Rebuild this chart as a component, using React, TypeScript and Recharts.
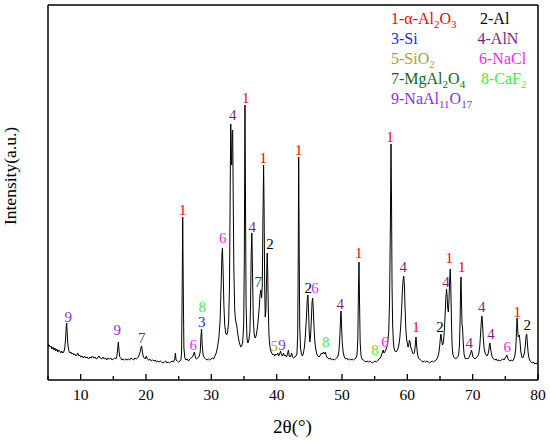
import React from "react";
import { ComposedChart, Line, Scatter, XAxis, YAxis } from "recharts";

// 2θ (deg) vs intensity (a.u.)
const scan05to25: [number, number][] = [
  [5.0, 36], [5.1, 34], [5.2, 35], [5.3, 33], [5.45, 34], [5.6, 31], [5.75, 33], [5.9, 30],
  [6.05, 32], [6.2, 29], [6.35, 31], [6.5, 28], [6.65, 30], [6.8, 29], [6.95, 27], [7.1, 29],
  [7.25, 27], [7.4, 28], [7.55, 31], [7.68, 40], [7.78, 52], [7.86, 57], [7.94, 47], [8.05, 35],
  [8.2, 29], [8.35, 27], [8.5, 28], [8.65, 26], [8.8, 27], [8.95, 25], [9.1, 26], [9.25, 24],
  [9.4, 25], [9.55, 27], [9.7, 24], [9.85, 25], [10.0, 23], [10.2, 24], [10.4, 22], [10.6, 24],
  [10.8, 22], [11.0, 23], [11.2, 21], [11.4, 23], [11.6, 22], [11.8, 24], [12.0, 22], [12.2, 23],
  [12.4, 21], [12.6, 22], [12.8, 24], [13.0, 22], [13.2, 21], [13.4, 23], [13.6, 21], [13.8, 22],
  [14.0, 20], [14.2, 22], [14.4, 21], [14.6, 22], [14.8, 20], [15.0, 21], [15.2, 22], [15.4, 21],
  [15.55, 24], [15.68, 32], [15.77, 38], [15.86, 30], [15.98, 23], [16.15, 22], [16.3, 20],
  [16.5, 21], [16.7, 20], [16.9, 21], [17.1, 20], [17.3, 21], [17.5, 20], [17.7, 22], [17.9, 21],
  [18.1, 20], [18.3, 22], [18.5, 21], [18.7, 22], [18.9, 24], [19.1, 28], [19.25, 33], [19.34, 34],
  [19.45, 28], [19.6, 23], [19.75, 22], [19.9, 21], [20.05, 24], [20.2, 21], [20.4, 20], [20.6, 21],
  [20.8, 19], [21.0, 20], [21.2, 19], [21.4, 20], [21.6, 18], [21.8, 19], [22.0, 18], [22.2, 19],
  [22.4, 18], [22.6, 17], [22.8, 18], [23.0, 19], [23.2, 17], [23.4, 18], [23.6, 17], [23.8, 18],
  [24.0, 19], [24.2, 18], [24.4, 21], [24.5, 27], [24.6, 20], [24.8, 19], [25.0, 18], [25.2, 19],
  [25.35, 20],
];

const scan25to41: [number, number][] = [
  [25.45, 28], [25.55, 100], [25.62, 163], [25.7, 95], [25.8, 32], [25.95, 22], [26.1, 20],
  [26.3, 21], [26.5, 19], [26.7, 21], [26.9, 22], [27.1, 23], [27.3, 26], [27.4, 28], [27.55, 23],
  [27.7, 21], [27.9, 22], [28.1, 23], [28.3, 28], [28.42, 44], [28.5, 51], [28.6, 35], [28.75, 25],
  [28.95, 22], [29.15, 21], [29.35, 20], [29.55, 21], [29.75, 20], [29.95, 21], [30.15, 22],
  [30.35, 21], [30.55, 24], [30.75, 27], [30.95, 33], [31.15, 42], [31.35, 60], [31.5, 95],
  [31.62, 125], [31.7, 132], [31.8, 110], [31.92, 75], [32.05, 55], [32.2, 47], [32.35, 45],
  [32.5, 48], [32.65, 58], [32.78, 95], [32.9, 200], [32.97, 256], [33.05, 225], [33.12, 215],
  [33.2, 248], [33.27, 250], [33.35, 180], [33.45, 110], [33.58, 70], [33.7, 60], [33.8, 57],
  [33.9, 54], [34.05, 46], [34.2, 40], [34.35, 36], [34.5, 33], [34.65, 34], [34.8, 38],
  [34.95, 55], [35.05, 120], [35.15, 275], [35.23, 180], [35.32, 75], [35.45, 42], [35.6, 37],
  [35.75, 40], [35.9, 48], [36.0, 75], [36.1, 125], [36.2, 147], [36.3, 110], [36.42, 62],
  [36.55, 46], [36.7, 42], [36.85, 44], [37.0, 50], [37.15, 58], [37.3, 70], [37.45, 85],
  [37.58, 90], [37.7, 82], [37.8, 95], [37.9, 160], [38.0, 215], [38.08, 170], [38.16, 95],
  [38.25, 63], [38.35, 70], [38.45, 100], [38.55, 127], [38.63, 110], [38.72, 70], [38.82, 45],
  [38.95, 34], [39.1, 29], [39.25, 27], [39.4, 25], [39.55, 26], [39.7, 24], [39.85, 26],
  [40.0, 25], [40.15, 27], [40.3, 24], [40.45, 26], [40.6, 29], [40.75, 25], [40.9, 24],
];

const scan41to62: [number, number][] = [
  [41.05, 27], [41.2, 24], [41.35, 25], [41.5, 23], [41.65, 26], [41.8, 30], [41.92, 24],
  [42.05, 23], [42.2, 25], [42.3, 27], [42.42, 23], [42.6, 22], [42.8, 23], [42.95, 24],
  [43.1, 26], [43.22, 45], [43.3, 120], [43.37, 223], [43.45, 130], [43.53, 55], [43.65, 32],
  [43.8, 26], [43.95, 24], [44.1, 27], [44.25, 33], [44.4, 45], [44.55, 62], [44.68, 80],
  [44.78, 85], [44.88, 70], [44.98, 48], [45.08, 38], [45.2, 45], [45.32, 62], [45.42, 78],
  [45.5, 82], [45.6, 72], [45.72, 52], [45.85, 38], [46.0, 30], [46.15, 26], [46.3, 24],
  [46.5, 23], [46.7, 25], [46.85, 27], [47.0, 26], [47.15, 28], [47.3, 26], [47.45, 28],
  [47.6, 24], [47.8, 22], [48.0, 21], [48.2, 22], [48.4, 20], [48.6, 21], [48.8, 20], [49.0, 21],
  [49.2, 22], [49.4, 24], [49.55, 30], [49.68, 45], [49.78, 62], [49.85, 69], [49.93, 55],
  [50.05, 36], [50.2, 27], [50.35, 23], [50.55, 21], [50.75, 22], [50.95, 20], [51.15, 21],
  [51.35, 20], [51.55, 21], [51.75, 20], [51.95, 21], [52.15, 22], [52.3, 25], [52.42, 40],
  [52.52, 90], [52.6, 118], [52.68, 80], [52.78, 38], [52.9, 25], [53.05, 21], [53.25, 20],
  [53.45, 19], [53.65, 18], [53.85, 19], [54.05, 18], [54.25, 19], [54.45, 18], [54.65, 17],
  [54.85, 18], [55.05, 19], [55.25, 18], [55.45, 19], [55.65, 21], [55.85, 22], [56.0, 24],
  [56.15, 27], [56.3, 30], [56.42, 27], [56.55, 28], [56.7, 30], [56.85, 33], [57.0, 37],
  [57.15, 48], [57.28, 80], [57.4, 150], [57.5, 236], [57.58, 180], [57.66, 95], [57.75, 55],
  [57.85, 40], [57.95, 32], [58.1, 29], [58.25, 28], [58.4, 29], [58.55, 31], [58.7, 35],
  [58.85, 42], [59.0, 55], [59.12, 70], [59.25, 90], [59.35, 100], [59.45, 104], [59.55, 95],
  [59.65, 72], [59.78, 50], [59.9, 40], [60.0, 37], [60.1, 33], [60.22, 35], [60.32, 40],
  [60.42, 38], [60.52, 33], [60.65, 31], [60.8, 27], [60.95, 26], [61.1, 28], [61.22, 35],
  [61.33, 43], [61.42, 35], [61.55, 26], [61.7, 22], [61.85, 21],
];

const scan62to80: [number, number][] = [
  [62.0, 20], [62.2, 19], [62.4, 18], [62.6, 19], [62.8, 18], [63.0, 19], [63.2, 18], [63.4, 17],
  [63.6, 18], [63.8, 19], [64.0, 18], [64.2, 19], [64.4, 20], [64.6, 22], [64.8, 26], [64.95, 34],
  [65.08, 44], [65.15, 46], [65.25, 40], [65.38, 35], [65.5, 37], [65.62, 45], [65.75, 60],
  [65.88, 80], [66.0, 91], [66.08, 85], [66.18, 72], [66.28, 68], [66.38, 80], [66.48, 100],
  [66.57, 111], [66.65, 95], [66.75, 60], [66.85, 35], [66.95, 26], [67.1, 23], [67.25, 22],
  [67.4, 21], [67.55, 22], [67.7, 23], [67.85, 25], [67.98, 35], [68.08, 60], [68.16, 95],
  [68.22, 103], [68.3, 75], [68.38, 55], [68.45, 53], [68.55, 38], [68.68, 26], [68.82, 22],
  [68.95, 21], [69.1, 22], [69.25, 21], [69.4, 22], [69.55, 24], [69.7, 27], [69.82, 30],
  [69.93, 27], [70.05, 23], [70.2, 22], [70.35, 21], [70.5, 22], [70.65, 23], [70.8, 24],
  [70.95, 27], [71.08, 33], [71.2, 45], [71.32, 58], [71.42, 64], [71.52, 55], [71.62, 42],
  [71.75, 32], [71.9, 27], [72.05, 25], [72.2, 24], [72.35, 26], [72.48, 30], [72.58, 36],
  [72.65, 37], [72.75, 31], [72.88, 26], [73.0, 23], [73.2, 21], [73.4, 20], [73.6, 21],
  [73.8, 19], [74.0, 20], [74.2, 19], [74.4, 20], [74.6, 21], [74.8, 20], [74.95, 22],
  [75.1, 23], [75.22, 25], [75.35, 22], [75.5, 20], [75.7, 19], [75.9, 20], [76.1, 19],
  [76.3, 21], [76.45, 24], [76.6, 32], [76.72, 50], [76.8, 62], [76.88, 52], [76.97, 43],
  [77.07, 44], [77.15, 45], [77.25, 38], [77.38, 28], [77.52, 23], [77.65, 22], [77.8, 24],
  [77.95, 28], [78.08, 36], [78.18, 44], [78.27, 46], [78.36, 38], [78.48, 28], [78.62, 22],
  [78.78, 19], [78.95, 18], [79.1, 17], [79.3, 18], [79.5, 16], [79.7, 17], [79.85, 16], [80.0, 16],
];

// phase number -> colour used for its peak marks and legend entry
const phaseColors: Record<number, string> = {
  1: "#ff0000",
  2: "#000000",
  3: "#1f1fff",
  4: "#7f1f87",
  5: "#b0a028",
  6: "#ff22ff",
  7: "#0f6b0f",
  8: "#3cf03c",
  9: "#8a2df0",
};

// peak marks: [2θ, intensity at text baseline, phase number]
const peakMarks: [number, number, number][] = [
  [8.11, 58, 9], [15.61, 45, 9], [19.34, 37, 7], [25.64, 165, 1], [27.24, 30, 6],
  [28.62, 68, 8], [28.53, 53, 3], [31.74, 137, 6], [33.27, 260, 4], [35.26, 277, 1],
  [36.27, 148, 4], [37.19, 93, 7], [37.95, 217, 1], [38.98, 131, 2], [39.62, 29, 5],
  [40.8, 30, 9], [43.37, 225, 1], [44.84, 87, 2], [45.87, 87, 6], [47.5, 33, 8],
  [49.74, 71, 4], [52.56, 122, 1], [55.05, 25, 8], [56.58, 33, 6], [57.35, 238, 1],
  [59.38, 108, 4], [61.33, 48, 1], [65.0, 48, 2], [65.92, 93, 4], [66.42, 117, 1],
  [68.32, 108, 1], [69.49, 32, 4], [71.38, 68, 4], [72.81, 41, 4], [75.3, 28, 6],
  [76.83, 63, 1], [78.36, 50, 2],
];

// legend rows; "_" marks a subscript run
const legendLeft = ["1-α-Al_2O_3", "3-Si", "5-SiO_2", "7-MgAl_2O_4", "9-NaAl_{11}O_{17}"];
const legendRight = ["2-Al", "4-AlN", "6-NaCl", "8-CaF_2"];

const xTicks = [5, 10, 15, 20, 25, 30, 35, 40, 45, 50, 55, 60, 65, 70, 75, 80];

const FONT = "Liberation Serif, Times New Roman, Tinos, serif";
const serif = { fontFamily: FONT };

const pattern = [...scan05to25, ...scan25to41, ...scan41to62, ...scan62to80].map(([t, I]) => ({ t, I }));
const marks = peakMarks.map(([t, I, n]) => ({ t, I, n }));

const frame = { stroke: "#000", strokeWidth: 1.5 };

function BottomTick(props: any) {
  const { x, y, payload } = props;
  const major = payload.value % 10 === 0;
  return (
    <g>
      <line x1={x} x2={x} y1={y} y2={y - (major ? 6 : 4)} stroke="#000" strokeWidth={1.3} />
      {major && (
        <text x={x} y={y + 20} textAnchor="middle" style={serif} fontSize={15.5} fill="#000">
          {payload.value}
        </text>
      )}
    </g>
  );
}

function PeakMark(props: any) {
  const { cx, cy, payload } = props;
  return (
    <text x={cx} y={cy} textAnchor="middle" style={serif} fontSize={15} fill={phaseColors[payload.n]}>
      {payload.n}
    </text>
  );
}

function Formula({ s, x, y }: { s: string; x: number; y: number }) {
  const n = Number(s[0]);
  const parts = s.split(/_(\{[^}]*\}|\d)/);
  let low = false;
  return (
    <text x={x} y={y} style={serif} fontSize={16} fill={phaseColors[n]}>
      {parts.map((p, i) => {
        const sub = i % 2 === 1;
        const txt = sub ? p.replace(/[{}]/g, "") : p;
        if (!txt) return null;
        const dy = sub && !low ? 4 : !sub && low ? -4 : 0;
        low = sub;
        return (
          <tspan key={i} dy={dy} fontSize={sub ? 11 : 16}>
            {txt}
          </tspan>
        );
      })}
    </text>
  );
}

export default function App() {
  return (
    <div style={{ position: "absolute", left: 0, top: 0, width: 550, height: 441, background: "#fff" }}>
      <ComposedChart width={550} height={441} margin={{ top: 4, right: 11, bottom: 60, left: 47 }}>
        <XAxis
          dataKey="t"
          type="number"
          domain={[5, 80]}
          ticks={xTicks}
          interval={0}
          allowDataOverflow
          height={1}
          tickSize={0}
          tickMargin={0}
          tickLine={false}
          tick={<BottomTick />}
          axisLine={frame}
        />
        <XAxis
          xAxisId="top"
          orientation="top"
          type="number"
          domain={[5, 80]}
          ticks={xTicks}
          height={1}
          tick={false}
          tickLine={false}
          axisLine={frame}
        />
        <YAxis
          dataKey="I"
          type="number"
          domain={[0, 375]}
          allowDataOverflow
          width={1}
          tick={false}
          tickLine={false}
          axisLine={frame}
        />
        <YAxis
          yAxisId="right"
          orientation="right"
          type="number"
          domain={[0, 375]}
          ticks={[0, 375]}
          width={1}
          tick={false}
          tickLine={false}
          axisLine={frame}
        />
        <Line
          data={pattern}
          dataKey="I"
          type="linear"
          stroke="#000"
          strokeWidth={1}
          dot={false}
          activeDot={false}
          isAnimationActive={false}
        />
        <Scatter data={marks} dataKey="I" shape={<PeakMark />} isAnimationActive={false} />
      </ComposedChart>
      <svg
        width={550}
        height={441}
        style={{ position: "absolute", left: 0, top: 0, pointerEvents: "none" }}
      >
        {legendLeft.map((s, i) => (
          <Formula key={s} s={s} x={391} y={24 + i * 20} />
        ))}
        {legendRight.map((s, i) => (
          <Formula key={s} s={s} x={[480, 477.5, 479, 481][i]} y={24 + i * 20} />
        ))}
        <text x={292.5} y={433} textAnchor="middle" style={serif} fontSize={19} fill="#000">
          2θ(°)
        </text>
        <text
          transform="translate(16,176) rotate(-90)"
          textAnchor="middle"
          style={serif}
          fontSize={17.5}
          fill="#000"
        >
          Intensity(a.u.)
        </text>
      </svg>
    </div>
  );
}
